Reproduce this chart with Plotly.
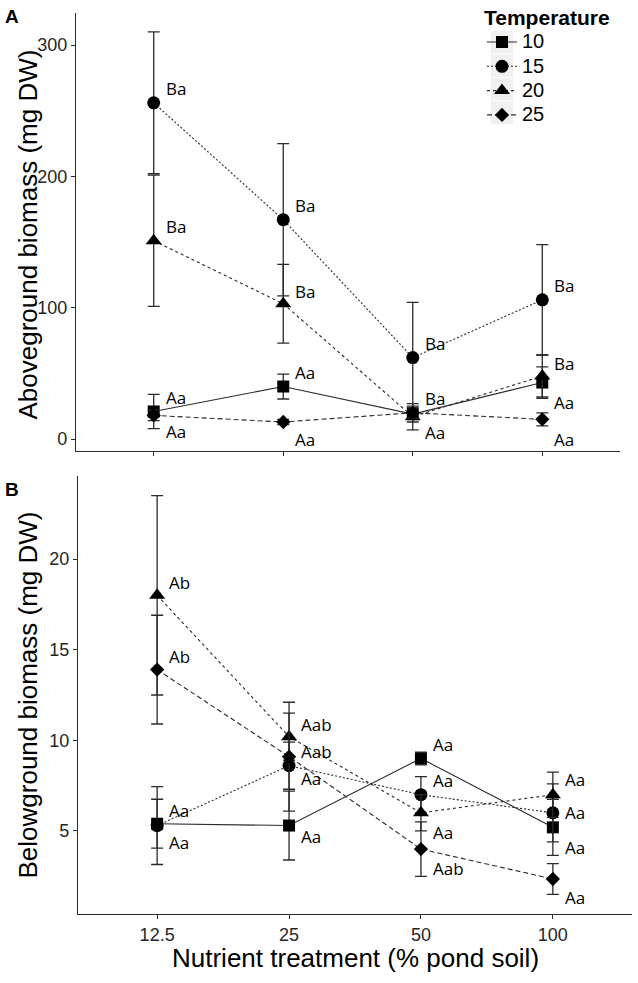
import plotly.graph_objects as go

# ---------------- data ----------------
categories = ["12.5", "25", "50", "100"]
temperatures = ["10", "15", "20", "25"]

# Panel A: aboveground biomass (mg DW), mean and error
above_10 = [21, 40, 19, 43]
above_10_err = [13, 9.5, 6, 12]
above_15 = [256, 167, 62, 106]
above_15_err = [54, 58, 42, 42]
above_20 = [151, 103, 17, 48]
above_20_err = [50, 30, 10, 16]
above_25 = [18, 13, 20, 15]
above_25_err = [4, 2, 4, 5]

# Panel B: belowground biomass (mg DW), mean and error
below_10 = [5.4, 5.3, 9.0, 5.2]
below_10_err = [1.35, 1.9, 0.35, 1.55]
below_15 = [5.3, 8.6, 7.0, 6.0]
below_15_err = [2.15, 1.3, 1.0, 1.6]
below_20 = [18.0, 10.2, 6.0, 7.0]
below_20_err = [5.5, 1.3, 1.0, 1.25]
below_25 = [13.9, 9.1, 4.0, 2.35]
below_25_err = [3.0, 3.0, 1.5, 0.85]

# significance letters
above_10_lab = ["Aa", "Aa", "Aa", "Aa"]
above_15_lab = ["Ba", "Ba", "Ba", "Ba"]
above_20_lab = ["Ba", "Ba", "Ba", "Ba"]
above_25_lab = ["Aa", "Aa", "", "Aa"]
below_10_lab = ["Aa", "Aa", "Aa", "Aa"]
below_15_lab = ["Aa", "Aa", "Aa", "Aa"]
below_20_lab = ["Ab", "Aab", "Aa", "Aa"]
below_25_lab = ["Ab", "Aab", "Aab", "Aa"]

# ---------------- style ----------------
W, H = 638, 983
FONT = "Liberation Sans"
LAB_FONT = "Open Sans"
INK = "#2b2b2b"

symbols = {"10": "square", "15": "circle", "20": "triangle-up", "25": "diamond"}
msizes = {"10": 12, "15": 13, "20": 14, "25": 11}
dashes = {"10": "solid", "15": "2px,2px", "20": "3px,3px", "25": "5px,3px"}

# vertical pixel shift of each letter label relative to its point
above_shift = {
    "10": [14, 14, -18, -20],
    "15": [14, 14, 14, 14],
    "20": [14, 12, 18, 13],
    "25": [-16, -18, -16, -20],
}
below_shift = {
    "10": [13, -11, 14, -20],
    "15": [-17, -13, 14, 0],
    "20": [13, 12, -20, 15],
    "25": [13, 5, -19, -18],
}

def fx(p):
    return p / W

def fy(p):
    return 1 - p / H

dom_a = dict(x=[fx(76), fx(620)], y=[fy(451), fy(13)])
dom_b = dict(x=[fx(78), fx(632)], y=[fy(914), fy(476)])

above = {
    "10": (above_10, above_10_err, above_10_lab),
    "15": (above_15, above_15_err, above_15_lab),
    "20": (above_20, above_20_err, above_20_lab),
    "25": (above_25, above_25_err, above_25_lab),
}
below = {
    "10": (below_10, below_10_err, below_10_lab),
    "15": (below_15, below_15_err, below_15_lab),
    "20": (below_20, below_20_err, below_20_lab),
    "25": (below_25, below_25_err, below_25_lab),
}

fig = go.Figure()
annotations = []

for panel, data, shifts, xa, ya in [
    ("A", above, above_shift, "x", "y"),
    ("B", below, below_shift, "x2", "y2"),
]:
    for t in temperatures:
        vals, err, labs = data[t]
        fig.add_trace(go.Scatter(
            x=categories, y=vals, mode="lines+markers",
            name="<span style='font-size:20px'>" + t + "</span>",
            legendgroup=t, showlegend=(panel == "A"),
            xaxis=xa, yaxis=ya,
            line=dict(color=INK, width=1.1, dash=dashes[t]),
            marker=dict(symbol=symbols[t], size=msizes[t], color="black",
                        line=dict(width=0)),
            error_y=dict(type="data", array=err, visible=True, color=INK,
                         thickness=1.3, width=6),
        ))
        for i, (v, lab) in enumerate(zip(vals, labs)):
            if not lab:
                continue
            annotations.append(dict(
                x=i, y=v, xref=xa, yref=ya, text=lab, showarrow=False,
                xanchor="left", yanchor="middle", xshift=10,
                yshift=shifts[t][i],
                font=dict(family=LAB_FONT, size=17, color="black"),
            ))

axis_common = dict(
    showline=True, linecolor=INK, linewidth=1.2, ticks="outside",
    ticklen=4, tickcolor=INK, tickwidth=1, showgrid=False, zeroline=False,
    tickfont=dict(family=FONT, size=18, color="#262626"),
)

# light grey legend key backgrounds (ggplot style)
key_rows = [42, 65.6, 89.2, 112.8]
shapes = [
    dict(type="rect", xref="paper", yref="paper",
         x0=fx(491), x1=fx(513), y0=fy(r + 11.3), y1=fy(r - 11.3),
         fillcolor="#f0f0f0", line=dict(width=0), layer="below")
    for r in key_rows
]

fig.update_layout(
    width=W, height=H,
    margin=dict(l=0, r=0, t=0, b=0, autoexpand=False),
    paper_bgcolor="white", plot_bgcolor="rgba(0,0,0,0)",
    xaxis=dict(domain=dom_a["x"], type="category", range=[-0.6, 3.6],
               anchor="y", showticklabels=False, **axis_common),
    yaxis=dict(domain=dom_a["y"], range=[-9.1, 324.4], anchor="x",
               tickvals=[0, 100, 200, 300], **axis_common),
    xaxis2=dict(domain=dom_b["x"], type="category", range=[-0.6, 3.6],
                anchor="y2", **axis_common),
    yaxis2=dict(domain=dom_b["y"], range=[0.42, 24.58], anchor="x2",
                tickvals=[5, 10, 15, 20], **axis_common),
    legend=dict(
        x=fx(482), y=fy(-2.5), xanchor="left", yanchor="top",
        bgcolor="rgba(0,0,0,0)",
        font=dict(family=FONT, size=16.4, color="black"),
        title=dict(text="<b>Temperature</b>",
                   font=dict(family=FONT, size=21, color="black")),
        tracegroupgap=0, itemwidth=30,
    ),
    showlegend=True,
    shapes=shapes,
    hovermode=False,
)

# axis titles and panel letters
annotations += [
    dict(x=fx(27.5), y=fy(235), xref="paper", yref="paper",
         text="Aboveground biomass (mg DW)", textangle=-90, showarrow=False,
         font=dict(family=FONT, size=26, color="black"),
         xanchor="center", yanchor="middle"),
    dict(x=fx(27.5), y=fy(695), xref="paper", yref="paper",
         text="Belowground biomass (mg DW)", textangle=-90, showarrow=False,
         font=dict(family=FONT, size=26, color="black"),
         xanchor="center", yanchor="middle"),
    dict(x=(dom_b["x"][0] + dom_b["x"][1]) / 2, y=fy(958), xref="paper", yref="paper",
         text="Nutrient treatment (% pond soil)", showarrow=False,
         font=dict(family=FONT, size=26, color="black"),
         xanchor="center", yanchor="middle"),
    dict(x=fx(12), y=fy(16), xref="paper", yref="paper", text="<b>A</b>",
         showarrow=False, font=dict(family=FONT, size=19, color="black"),
         xanchor="center", yanchor="middle"),
    dict(x=fx(12), y=fy(489), xref="paper", yref="paper", text="<b>B</b>",
         showarrow=False, font=dict(family=FONT, size=19, color="black"),
         xanchor="center", yanchor="middle"),
]
fig.update_layout(annotations=annotations)

# remove the browser's default 8px page margin so the figure fills the window
fig.write_html("out.html", config={"displayModeBar": False},
               post_script="document.body.style.margin='0px';")
